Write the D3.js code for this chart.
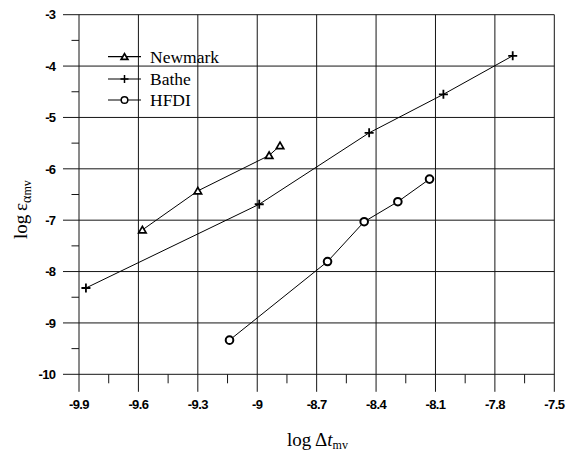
<!DOCTYPE html>
<html>
<head>
<meta charset="utf-8">
<script src="https://cdn.jsdelivr.net/npm/d3@7"></script>
<style>
  html, body { margin: 0; padding: 0; background: #fff; }
  svg { display: block; }
  .tick-label { font-family: "Liberation Sans", Arial, sans-serif; font-weight: bold; font-size: 13px; letter-spacing: -0.6px; fill: #000; }
  .serif { font-family: "Liberation Serif", "Times New Roman", serif; fill: #000; }
</style>
</head>
<body>
<script>
// Convergence data: log of time step vs log of error
const xTicks = [-9.9, -9.6, -9.3, -9, -8.7, -8.4, -8.1, -7.8, -7.5];
const yTicks = [-10, -9, -8, -7, -6, -5, -4, -3];
const xTickLabels = ["-9.9", "-9.6", "-9.3", "-9", "-8.7", "-8.4", "-8.1", "-7.8", "-7.5"];
const yTickLabels = ["-10", "-9", "-8", "-7", "-6", "-5", "-4", "-3"];

const newmarkX = [-9.58, -9.30, -8.94, -8.885];
const newmarkY = [-7.19, -6.43, -5.74, -5.55];

const batheX = [-9.865, -8.99, -8.435, -8.06, -7.71];
const batheY = [-8.32, -6.69, -5.30, -4.55, -3.80];

const hfdiX = [-9.14, -8.645, -8.46, -8.29, -8.13];
const hfdiY = [-9.335, -7.805, -7.03, -6.64, -6.20];

const seriesNames = ["Newmark", "Bathe", "HFDI"];

const W = 568, H = 452;
const plotLeft = 79, plotRight = 554.3, plotTop = 14.7, plotBottom = 374.3;

const x = d3.scaleLinear().domain([-9.9, -7.5]).range([plotLeft, plotRight]);
const y = d3.scaleLinear().domain([-10, -3]).range([plotBottom, plotTop]);

const svg = d3.select("body").append("svg").attr("width", W).attr("height", H);

const gridColor = "#151515";

// horizontal grid lines, running out past the left axis as major ticks
svg.append("g").selectAll("line").data(yTicks).join("line")
  .attr("x1", plotLeft - 16).attr("x2", plotRight)
  .attr("y1", d => y(d)).attr("y2", d => y(d))
  .attr("stroke", gridColor).attr("stroke-width", 1);

// vertical grid lines, running down past the bottom axis as major ticks
svg.append("g").selectAll("line").data(xTicks).join("line")
  .attr("x1", d => x(d)).attr("x2", d => x(d))
  .attr("y1", plotTop).attr("y2", plotBottom + 17.5)
  .attr("stroke", gridColor).attr("stroke-width", 1);

// minor ticks halfway between the majors
const xMinor = d3.range(xTicks.length - 1).map(i => (xTicks[i] + xTicks[i + 1]) / 2);
const yMinor = d3.range(yTicks.length - 1).map(i => (yTicks[i] + yTicks[i + 1]) / 2);

svg.append("g").selectAll("line").data(xMinor).join("line")
  .attr("x1", d => x(d)).attr("x2", d => x(d))
  .attr("y1", plotBottom).attr("y2", plotBottom + 9)
  .attr("stroke", gridColor).attr("stroke-width", 1);

svg.append("g").selectAll("line").data(yMinor).join("line")
  .attr("x1", plotLeft - 7.5).attr("x2", plotLeft)
  .attr("y1", d => y(d)).attr("y2", d => y(d))
  .attr("stroke", gridColor).attr("stroke-width", 1);

// tick labels
svg.append("g").selectAll("text").data(xTicks).join("text")
  .attr("class", "tick-label")
  .attr("x", d => x(d)).attr("y", 408.5)
  .attr("text-anchor", "middle")
  .text((d, i) => xTickLabels[i]);

svg.append("g").selectAll("text").data(yTicks).join("text")
  .attr("class", "tick-label")
  .attr("x", 55.5).attr("y", d => y(d) + 4.7)
  .attr("text-anchor", "end")
  .text((d, i) => yTickLabels[i]);

// axis titles
const xt = svg.append("text").attr("class", "serif")
  .attr("x", 287).attr("y", 446).attr("font-size", 19);
xt.append("tspan").text("log\u2009\u0394");
xt.append("tspan").attr("font-style", "italic").text("t");
xt.append("tspan").attr("font-size", 12).attr("dy", 3).text("mv");

const yt = svg.append("text").attr("class", "serif")
  .attr("transform", "translate(27,239) rotate(-90)")
  .attr("font-size", 19);
yt.append("tspan").text("log\u2009");
yt.append("tspan").text("\u03b5");
yt.append("tspan").attr("font-size", 14).attr("dy", 4).text("\u03b1");
yt.append("tspan").attr("font-size", 12).text("mv");

// series
const line = d3.line().x(d => x(d[0])).y(d => y(d[1]));
const zip = (a, b) => a.map((v, i) => [v, b[i]]);

const newmark = zip(newmarkX, newmarkY);
const bathe = zip(batheX, batheY);
const hfdi = zip(hfdiX, hfdiY);

[newmark, bathe, hfdi].forEach(pts => {
  svg.append("path").datum(pts).attr("d", line)
    .attr("fill", "none").attr("stroke", "#000").attr("stroke-width", 1);
});

const tri = d3.symbol(d3.symbolTriangle, 24);
const triSmall = d3.symbol(d3.symbolTriangle, 20);
const plusPath = r => `M${-r},0H${r}M0,${-r}V${r}`;

function drawTri(g, px, py, sym) {
  g.append("path").attr("d", sym()).attr("transform", `translate(${px},${py + 0.8})`)
    .attr("fill", "#fff").attr("stroke", "#000").attr("stroke-width", 1.7);
}
function drawPlus(g, px, py, r, w) {
  g.append("path").attr("d", plusPath(r)).attr("transform", `translate(${px},${py})`)
    .attr("fill", "none").attr("stroke", "#000").attr("stroke-width", w);
}
function drawCircle(g, px, py, r, w) {
  g.append("circle").attr("cx", px).attr("cy", py).attr("r", r)
    .attr("fill", "#fff").attr("stroke", "#000").attr("stroke-width", w);
}

const marks = svg.append("g");
newmark.forEach(d => drawTri(marks, x(d[0]), y(d[1]), tri));
bathe.forEach(d => drawPlus(marks, x(d[0]), y(d[1]), 4.5, 1.8));
hfdi.forEach(d => drawCircle(marks, x(d[0]), y(d[1]), 3.8, 2));

// legend
const legend = svg.append("g");
const legendY = [56.7, 79, 100];
legendY.forEach((ly, i) => {
  legend.append("line").attr("x1", 108).attr("x2", 141).attr("y1", ly).attr("y2", ly)
    .attr("stroke", "#000").attr("stroke-width", 1.2);
  legend.append("text").attr("class", "serif").attr("font-size", 17.5)
    .attr("x", 150).attr("y", ly + 6).text(seriesNames[i]);
});
drawTri(legend, 124.5, legendY[0], triSmall);
drawPlus(legend, 124.5, legendY[1], 4, 1.5);
drawCircle(legend, 124.5, legendY[2], 3.3, 1.5);
</script>
</body>
</html>
